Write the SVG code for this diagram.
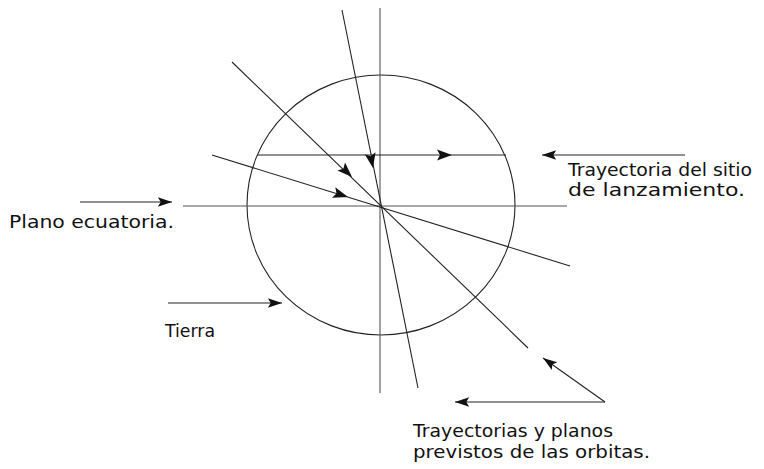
<svg xmlns="http://www.w3.org/2000/svg" width="764" height="469" viewBox="0 0 764 469">
<style>
.ln{stroke:#222;stroke-width:1.1;fill:none}
.ax{stroke:#555;stroke-width:1.1;fill:none}
.lbl{font-family:"DejaVu Sans","Liberation Sans",sans-serif;font-size:18px;fill:#111}
.ah{fill:#111}
</style>
<defs>
<polygon id="head" points="0,0 -15,-5.5 -12,0 -15,5.5"/>
<marker id="arr" markerWidth="16" markerHeight="12" viewBox="-16 -6 17 12" refX="0" refY="0" orient="auto" markerUnits="userSpaceOnUse">
<polygon points="0,0 -15,-5 -12,0 -15,5" fill="#111"/>
</marker>
</defs>
<rect width="764" height="469" fill="#fff"/>
<g id="tierra-circle">
<ellipse cx="381" cy="205" rx="134" ry="130" class="ln"/>
</g>
<g id="axes">
<line x1="380" y1="8" x2="380" y2="393" class="ax"/>
<line x1="183" y1="206" x2="567" y2="206" class="ax"/>
</g>
<g id="launch-trajectory">
<line x1="257" y1="155" x2="506" y2="155" class="ln"/>
<use href="#head" class="ah" transform="translate(452,155)"/>
</g>
<g id="orbits">
<line x1="342" y1="10" x2="418" y2="388" class="ln"/>
<use href="#head" class="ah" transform="translate(373,168) rotate(79)"/>
<line x1="232" y1="62" x2="528" y2="348" class="ln"/>
<use href="#head" class="ah" transform="translate(352,177) rotate(44)"/>
<line x1="212" y1="155" x2="570" y2="266" class="ln"/>
<use href="#head" class="ah" transform="translate(348,197) rotate(17.2)"/>
</g>
<g id="connectors">
<line x1="80" y1="202" x2="172" y2="202" class="ln" marker-end="url(#arr)"/>
<line x1="168" y1="303" x2="282" y2="303" class="ln" marker-end="url(#arr)"/>
<line x1="685" y1="155" x2="542" y2="155" class="ln" marker-end="url(#arr)"/>
<line x1="605" y1="402" x2="455" y2="402" class="ln" marker-end="url(#arr)"/>
<line x1="605" y1="402" x2="543" y2="358" class="ln" marker-end="url(#arr)"/>
</g>
<g id="label-plano">
<text class="lbl" x="9" y="228" textLength="165" lengthAdjust="spacingAndGlyphs">Plano ecuatoria.</text>
</g>
<g id="label-tierra">
<text class="lbl" x="165" y="337" textLength="50" lengthAdjust="spacingAndGlyphs">Tierra</text>
</g>
<g id="label-sitio">
<text class="lbl" x="568" y="176" textLength="184" lengthAdjust="spacingAndGlyphs">Trayectoria del sitio</text>
<text class="lbl" x="568" y="196" textLength="177" lengthAdjust="spacingAndGlyphs">de lanzamiento.</text>
</g>
<g id="label-orbitas">
<text class="lbl" x="413" y="437" textLength="200" lengthAdjust="spacingAndGlyphs">Trayectorias y planos</text>
<text class="lbl" x="413" y="458" textLength="237" lengthAdjust="spacingAndGlyphs">previstos de las orbitas.</text>
</g>
</svg>
